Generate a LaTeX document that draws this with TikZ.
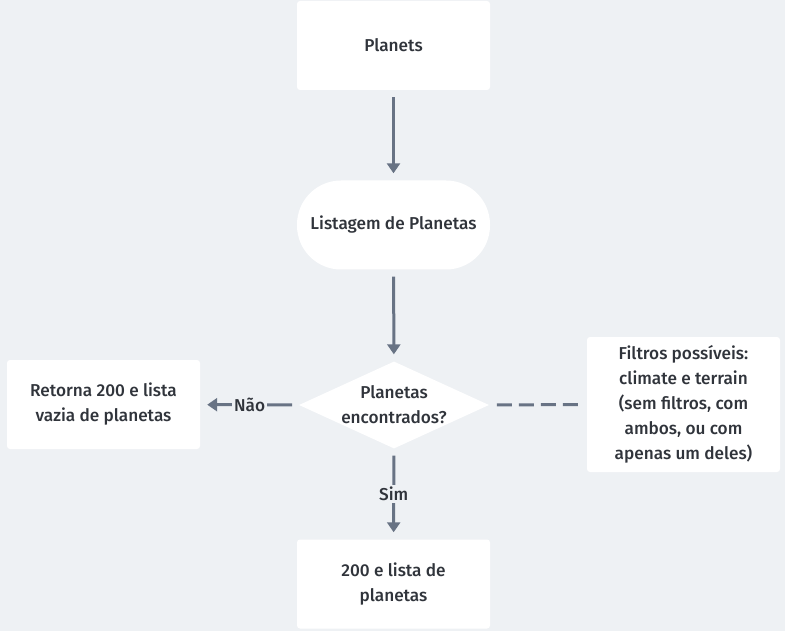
\documentclass[tikz,border=0pt]{standalone}
\usepackage{fontspec}
\setmainfont{Fira Sans}[UprightFont=*-Medium]
\usepackage{tikz}
\usetikzlibrary{arrows.meta,shapes.geometric}
\definecolor{fundo}{HTML}{EEF1F4}
\definecolor{linha}{HTML}{687384}
\definecolor{texto}{HTML}{30343B}
\tikzstyle{caixa}=[rectangle, fill=white, rounded corners=3pt, minimum width=193pt, minimum height=89pt, inner sep=0pt, align=center, text=texto, font=\fontsize{17.2}{25}\selectfont]
\tikzstyle{pilula}=[caixa, rounded corners=44pt]
\tikzstyle{losango}=[diamond, fill=white, minimum width=190pt, minimum height=87pt, aspect=2.2, inner sep=0pt, align=center, text=texto, font=\fontsize{17.2}{25}\selectfont]
\tikzstyle{seta}=[draw=linha, line width=3pt, shorten <=7pt, shorten >=7pt, -{Triangle[length=10pt,width=13pt]}]
\tikzstyle{tracejado}=[draw=linha, line width=3pt, shorten <=8pt, shorten >=9pt, dash pattern=on 15pt off 7pt]
\tikzstyle{rotulo}=[fill=fundo, text=texto, inner sep=2pt, font=\fontsize{17.2}{18}\selectfont]

\begin{document}
\begin{tikzpicture}[x=1pt, y=-1pt]
      \fill[fundo] (0,0) rectangle (785,631);
      \useasboundingbox (0,0) rectangle (785,631);
      %%%%%%%%%%%% Fluxo principal
      \node(planets) [caixa] at (393.5, 45.5){Planets};
      \node(listagem) [pilula] at (393.5, 225){Listagem de Planetas};
      \node(decisao) [losango] at (394, 405){Planetas\\encontrados?};
      \node(vazia) [caixa] at (103.5, 404.5){Retorna 200 e lista\\vazia de planetas};
      \node(lista) [caixa] at (393.5, 584){200 e lista de\\planetas};
      \node(filtros) [caixa, minimum height=135pt] at (683.5, 404.5){Filtros possíveis:\\climate e terrain\\(sem filtros, com\\ambos, ou com\\apenas um deles)};
      \draw[seta] (planets) to (listagem);
      \draw[seta] (listagem) to (decisao);
      \draw[seta] (decisao) to node[rotulo]{Não} (vazia);
      \draw[seta] (decisao) to node[rotulo]{Sim} (lista);
      %%%%%%%%%%%% Nota
      \draw[tracejado] (decisao) to (filtros);
    \end{tikzpicture}
\end{document}
